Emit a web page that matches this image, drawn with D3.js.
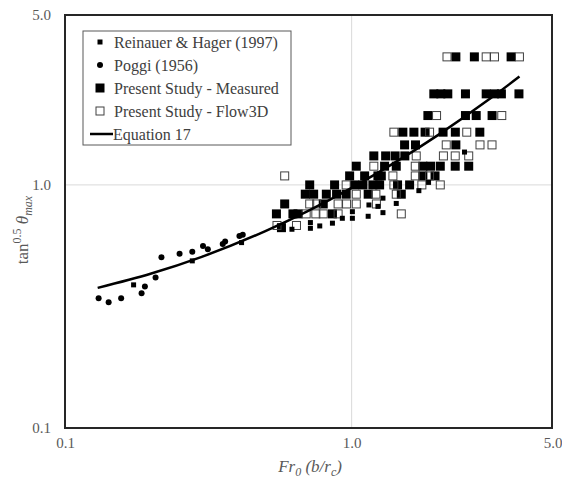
<!DOCTYPE html>
<html>
<head>
<meta charset="utf-8">
<script src="https://cdn.jsdelivr.net/npm/d3@7"></script>
<style>
  body { margin: 0; background: #fff; }
  svg text { font-family: "Liberation Serif", "Times New Roman", serif !important; }
</style>
</head>
<body>
<div id="chart"></div>
<script>
// Reinauer & Hager (1997)
var reinX = [0.1735, 0.278, 0.413, 2.476, 1.855, 1.716, 1.149, 1.235, 1.286, 1.431, 1.006, 1.142, 1.286, 0.718, 0.718, 0.774, 0.857, 0.928, 1.006, 0.619];
var reinY = [0.388, 0.487, 0.579, 1.365, 1.024, 0.947, 0.827, 0.816, 0.882, 0.839, 0.776, 0.743, 0.769, 0.700, 0.663, 0.678, 0.696, 0.729, 0.729, 0.657];

// Poggi (1956)
var poggiX = [0.131, 0.142, 0.157, 0.185, 0.190, 0.207, 0.217, 0.251, 0.278, 0.303, 0.315, 0.355, 0.362, 0.406, 0.417];
var poggiY = [0.342, 0.329, 0.342, 0.358, 0.382, 0.416, 0.504, 0.521, 0.531, 0.561, 0.544, 0.571, 0.585, 0.617, 0.623];

// Present Study - Measured
var measX = [2.31, 2.68, 3.60,
  1.935, 2.047, 2.165, 2.495, 2.947, 3.15, 3.33, 3.834,
  1.845, 2.495, 2.72, 3.09,
  1.509, 1.649, 1.804, 2.084, 2.30, 2.80,
  1.53, 1.67, 2.31,
  1.195, 1.314, 1.418, 1.533,
  1.038, 1.303, 1.431, 1.772, 1.885, 2.038, 2.298, 2.561,
  0.984, 1.11, 1.235, 1.269, 1.772, 1.954,
  0.714, 0.872, 1.024, 1.095, 1.186, 1.252, 1.446, 1.593,
  0.689, 0.737, 0.816, 0.886, 0.957, 1.142, 1.49,
  0.584, 0.796,
  0.5465, 0.624, 0.65, 0.857,
  0.569];
var measY = [3.363, 3.363, 3.363,
  2.369, 2.369, 2.369, 2.369, 2.369, 2.369, 2.369, 2.369,
  1.929, 1.929, 1.929, 1.929,
  1.648, 1.648, 1.648, 1.648, 1.648, 1.648,
  1.461, 1.461, 1.461,
  1.316, 1.316, 1.316, 1.316,
  1.194, 1.194, 1.194, 1.194, 1.194, 1.194, 1.194, 1.194,
  1.089, 1.089, 1.089, 1.089, 1.089, 1.089,
  1.0, 1.0, 1.0, 1.0, 1.0, 1.0, 1.0, 1.0,
  0.916, 0.916, 0.916, 0.916, 0.916, 0.916, 0.916,
  0.835, 0.835,
  0.760, 0.760, 0.760, 0.760,
  0.667];

// Present Study - Flow3D
var flowX = [2.151, 2.947, 3.15, 3.849,
  1.978, 3.34,
  1.404, 1.87, 2.521,
  2.138, 2.804, 3.088,
  1.68, 2.09, 2.298, 2.561,
  1.195, 1.667,
  0.584, 1.393, 1.667, 1.87,
  0.957, 1.404, 1.758, 2.038,
  1.038, 1.215, 1.431,
  0.714, 0.755, 0.897, 0.96, 1.038, 1.22,
  0.694, 0.75, 0.796, 0.897, 1.49,
  0.549, 0.642];
var flowY = [3.363, 3.363, 3.363, 3.363,
  1.929, 1.929,
  1.648, 1.648, 1.648,
  1.461, 1.461, 1.461,
  1.316, 1.316, 1.316, 1.316,
  1.194, 1.194,
  1.089, 1.089, 1.089, 1.089,
  1.0, 1.0, 1.0, 1.0,
  0.916, 0.916, 0.916,
  0.835, 0.835, 0.835, 0.835, 0.835, 0.835,
  0.760, 0.760, 0.760, 0.760, 0.760,
  0.681, 0.681];

// Equation 17, points
var eqX = [0.13, 0.2, 0.3, 0.5, 0.7, 1.0, 1.5, 2.0, 3.0, 3.85];
var eqY = [0.377, 0.432, 0.506, 0.646, 0.779, 0.973, 1.289, 1.603, 2.238, 2.792];

var tickVals = [0.1, 1.0, 5.0];
var tickLabels = ["0.1", "1.0", "5.0"];

var legendNames = ["Reinauer & Hager (1997)", "Poggi (1956)", "Present Study - Measured", "Present Study - Flow3D", "Equation 17"];

var svgWidth = 562;
var svgHeight = 482;

var plot = { left: 65, right: 552, top: 15, bottom: 428 };
var serif = "'Liberation Serif', 'Times New Roman', serif";

var svg = d3.select("#chart")
  .append("svg")
  .attr("width", svgWidth)
  .attr("height", svgHeight);

var x = d3.scaleLog().domain([0.1, 5]).range([plot.left, plot.right]);
var y = d3.scaleLog().domain([0.1, 5]).range([plot.bottom, plot.top]);

function pairs(xs, ys) {
  return xs.map(function(v, i) { return [v, ys[i]]; });
}

// gridlines at 1.0
svg.append("line")
  .attr("x1", x(1)).attr("x2", x(1))
  .attr("y1", plot.top).attr("y2", plot.bottom)
  .attr("stroke", "#d9d9d9").attr("stroke-width", 1);
svg.append("line")
  .attr("x1", plot.left).attr("x2", plot.right)
  .attr("y1", y(1)).attr("y2", y(1))
  .attr("stroke", "#d9d9d9").attr("stroke-width", 1);

// tick labels via axes with hidden lines
var xAxis = d3.axisBottom(x).tickValues(tickVals)
  .tickFormat(function(d, i) { return tickLabels[i]; }).tickSize(0).tickPadding(9);
var gx = svg.append("g")
  .attr("transform", `translate(0, ${plot.bottom})`)
  .call(xAxis)
  .attr("font-family", serif);
gx.select(".domain").remove();
gx.selectAll("text")
  .style("font-family", serif)
  .attr("font-size", 15)
  .attr("fill", "#595959");
gx.selectAll(".tick text").filter(function(d) { return d === 5.0; })
  .attr("text-anchor", "end").attr("dx", 10);

var yAxis = d3.axisLeft(y).tickValues(tickVals)
  .tickFormat(function(d, i) { return tickLabels[i]; }).tickSize(0).tickPadding(14);
var gy = svg.append("g")
  .attr("transform", `translate(${plot.left}, 0)`)
  .call(yAxis)
  .attr("font-family", serif);
gy.select(".domain").remove();
gy.selectAll("text")
  .style("font-family", serif)
  .attr("font-size", 15)
  .attr("fill", "#595959");

// plot border
svg.append("rect")
  .attr("x", plot.left).attr("y", plot.top)
  .attr("width", plot.right - plot.left)
  .attr("height", plot.bottom - plot.top)
  .attr("fill", "none")
  .attr("stroke", "#262626")
  .attr("stroke-width", 2);

// Measured: big filled squares
var big = 9;
svg.append("g").selectAll("rect")
  .data(pairs(measX, measY))
  .enter()
  .append("rect")
  .attr("x", d => x(d[0]) - big / 2)
  .attr("y", d => y(d[1]) - big / 2)
  .attr("width", big).attr("height", big)
  .attr("fill", "#000");

// Flow3D: open squares
svg.append("g").selectAll("rect")
  .data(pairs(flowX, flowY))
  .enter()
  .append("rect")
  .attr("x", d => x(d[0]) - (big - 1) / 2)
  .attr("y", d => y(d[1]) - (big - 1) / 2)
  .attr("width", big - 1).attr("height", big - 1)
  .attr("fill", "none")
  .attr("stroke", "#404040")
  .attr("stroke-width", 1);

// Reinauer & Hager: small squares
var small = 5;
svg.append("g").selectAll("rect")
  .data(pairs(reinX, reinY))
  .enter()
  .append("rect")
  .attr("x", d => x(d[0]) - small / 2)
  .attr("y", d => y(d[1]) - small / 2)
  .attr("width", small).attr("height", small)
  .attr("fill", "#000");

// Poggi: dots
svg.append("g").selectAll("circle")
  .data(pairs(poggiX, poggiY))
  .enter()
  .append("circle")
  .attr("cx", d => x(d[0]))
  .attr("cy", d => y(d[1]))
  .attr("r", 3)
  .attr("fill", "#000");

// Equation 17 line
var line = d3.line()
  .x(d => x(d[0]))
  .y(d => y(d[1]))
  .curve(d3.curveMonotoneX);
svg.append("path")
  .datum(pairs(eqX, eqY))
  .attr("d", line)
  .attr("fill", "none")
  .attr("stroke", "#000")
  .attr("stroke-width", 2.5);

// legend
var legend = svg.append("g");
legend.append("rect")
  .attr("x", 83).attr("y", 31)
  .attr("width", 208).attr("height", 114)
  .attr("fill", "#fff")
  .attr("stroke", "#595959")
  .attr("stroke-width", 1);

var rowY = [42, 65, 88, 111, 134];
var mx = 100;
legend.append("rect").attr("x", mx - 2.5).attr("y", rowY[0] - 2.5)
  .attr("width", 5).attr("height", 5).attr("fill", "#000");
legend.append("circle").attr("cx", mx).attr("cy", rowY[1]).attr("r", 3).attr("fill", "#000");
legend.append("rect").attr("x", mx - 4.5).attr("y", rowY[2] - 4.5)
  .attr("width", 9).attr("height", 9).attr("fill", "#000");
legend.append("rect").attr("x", mx - 4).attr("y", rowY[3] - 4)
  .attr("width", 8).attr("height", 8).attr("fill", "none")
  .attr("stroke", "#404040").attr("stroke-width", 1);
legend.append("line").attr("x1", 90).attr("x2", 113)
  .attr("y1", rowY[4]).attr("y2", rowY[4])
  .attr("stroke", "#000").attr("stroke-width", 2.5);

legend.selectAll("text.name")
  .data(legendNames)
  .enter()
  .append("text")
  .attr("class", "name")
  .attr("x", (d, i) => i === 4 ? 113 : 114)
  .attr("y", (d, i) => rowY[i])
  .attr("dy", "0.35em")
  .attr("font-size", 16)
  .attr("fill", "#404040")
  .text(d => d);

// axis titles
var xTitle = svg.append("text")
  .attr("x", 310)
  .attr("y", 472)
  .attr("text-anchor", "middle")
  .attr("font-size", 17)
  .attr("font-style", "italic")
  .attr("fill", "#595959");
xTitle.append("tspan").text("Fr");
xTitle.append("tspan").attr("font-size", 12).attr("dy", 4).text("0");
xTitle.append("tspan").attr("dy", -4).text(" (b/r");
xTitle.append("tspan").attr("font-size", 12).attr("dy", 4).text("c");
xTitle.append("tspan").attr("dy", -4).text(")");

var yTitle = svg.append("text")
  .attr("transform", "translate(28, 230) rotate(-90)")
  .attr("text-anchor", "middle")
  .attr("font-size", 17)
  .attr("fill", "#595959");
yTitle.append("tspan").text("tan");
yTitle.append("tspan").attr("font-size", 12).attr("dy", -7).text("0.5");
yTitle.append("tspan").attr("dy", 7).attr("font-style", "italic").text(" θ");
yTitle.append("tspan").attr("font-size", 12).attr("dy", 4).attr("font-style", "italic").text("max");
</script>
</body>
</html>
